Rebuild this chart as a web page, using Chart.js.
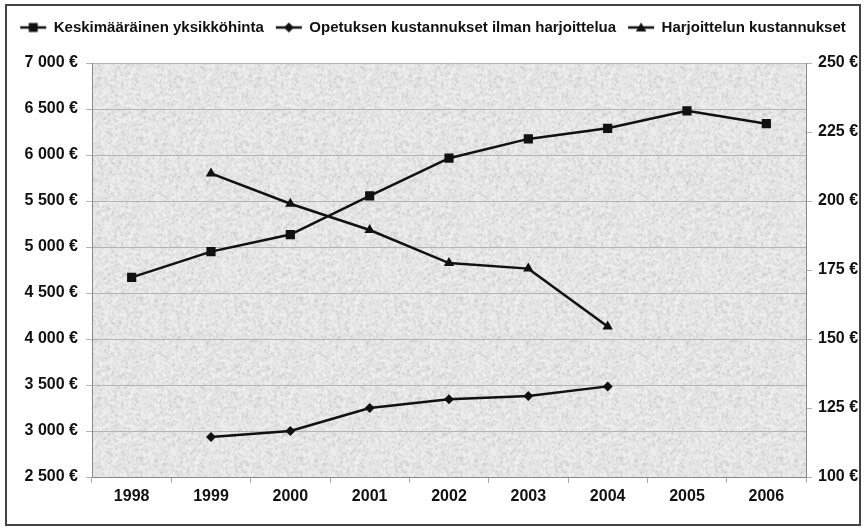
<!DOCTYPE html>
<html>
<head>
<meta charset="utf-8">
<script src="https://cdn.jsdelivr.net/npm/chart.js@4"></script>
<style>
html,body{margin:0;padding:0;background:#fff;}
#wrap{width:866px;height:529px;position:relative;}
</style>
</head>
<body>
<div id="wrap"><canvas id="c" width="866" height="529"></canvas></div>
<script>
// ---- data ----
const years = ['1998','1999','2000','2001','2002','2003','2004','2005','2006'];
const unitPrice = [4670, 4950, 5135, 5555, 5965, 6175, 6290, 6480, 6340];
const teachingCost = [null, 2935, 3000, 3250, 3345, 3380, 3485, null, null];
const trainingCost = [null, 210, 199, 189.5, 177.5, 175.5, 154.5, null, null];
const seriesNames = ['Keskimääräinen yksikköhinta', 'Opetuksen kustannukset ilman harjoittelua', 'Harjoittelun kustannukset'];
const leftTicks = {min: 2500, max: 7000, step: 500};
const rightTicks = {min: 100, max: 250, step: 25};

const FONT = '"Liberation Sans", Arial, sans-serif';
const INK = '#111';
const FS = 16;

function fmtEuro(v){
  return String(v).replace(/\B(?=(\d{3})+(?!\d))/g, ' ') + ' €';
}

// texture for plot background (deterministic noise)
function makeTexture(){
  const s = 160;
  const cv = document.createElement('canvas');
  cv.width = s; cv.height = s;
  const cx = cv.getContext('2d');
  const img = cx.createImageData(s, s);
  let seed = 12345;
  function rnd(){ seed = (seed * 1103515245 + 12345) & 0x7fffffff; return seed / 0x7fffffff; }
  const raw = new Float32Array(s*s);
  for (let i=0;i<s*s;i++){ const r = rnd(); raw[i] = 243 - r*r*r*60; }
  for (let y=0;y<s;y++){
    for (let x=0;x<s;x++){
      let sum=0, n=0;
      for (let dy=-1;dy<=1;dy++) for (let dx=-1;dx<=1;dx++){
        const xx=(x+dx+s)%s, yy=(y+dy+s)%s;
        const w = (dx===0&&dy===0)?4:1;
        sum += raw[yy*s+xx]*w; n+=w;
      }
      const v = Math.round(sum/n);
      const k=(y*s+x)*4;
      img.data[k]=v; img.data[k+1]=v; img.data[k+2]=v; img.data[k+3]=255;
    }
  }
  cx.putImageData(img,0,0);
  return cv;
}

function legendIcon(style){
  const w = 28, h = 14;
  const cv = document.createElement('canvas');
  cv.width = w; cv.height = h;
  const cx = cv.getContext('2d');
  cx.strokeStyle = INK; cx.fillStyle = INK; cx.lineWidth = 2.5;
  cx.beginPath(); cx.moveTo(1, h/2); cx.lineTo(w-1, h/2); cx.stroke();
  const x = w/2, y = h/2;
  cx.beginPath();
  if (style === 'rect'){ cx.rect(x-4.5, y-4.5, 9, 9); }
  else if (style === 'rectRot'){ cx.moveTo(x-5,y); cx.lineTo(x,y-5); cx.lineTo(x+5,y); cx.lineTo(x,y+5); cx.closePath(); }
  else { cx.moveTo(x, y-5); cx.lineTo(x+5.2, y+4); cx.lineTo(x-5.2, y+4); cx.closePath(); }
  cx.fill();
  return cv;
}

const styles = ['rect','rectRot','triangle'];
const radii = [6.5, 5, 6];
const icons = styles.map(legendIcon);

const bgPlugin = {
  id: 'bgTexture',
  beforeDraw(chart){
    const {ctx, chartArea: a} = chart;
    ctx.save();
    ctx.fillStyle = '#fff';
    ctx.fillRect(0,0,chart.width,chart.height);
    const pat = ctx.createPattern(makeTexture(), 'repeat');
    ctx.fillStyle = pat;
    ctx.fillRect(a.left, a.top, a.right-a.left, a.bottom-a.top);
    ctx.restore();
  },
  afterDraw(chart){
    const ctx = chart.ctx;
    ctx.save();
    ctx.strokeStyle = '#444';
    ctx.lineWidth = 2;
    ctx.strokeRect(6, 5, chart.width-12, chart.height-9);
    ctx.restore();
  }
};

const legendFit = {
  id: 'legendFit',
  beforeInit(chart){
    const orig = chart.legend.fit;
    chart.legend.fit = function(){ orig.call(this); this.height = 55; };
  }
};

const mkDs = (i, data, axis) => ({
  label: seriesNames[i],
  data: data,
  yAxisID: axis,
  borderColor: INK,
  backgroundColor: INK,
  borderWidth: 2.5,
  pointStyle: styles[i],
  pointRadius: radii[i],
  pointHoverRadius: radii[i],
  pointBorderWidth: 0,
  pointBackgroundColor: INK,
  tension: 0,
  spanGaps: false
});

new Chart(document.getElementById('c'), {
  type: 'line',
  data: {
    labels: years,
    datasets: [
      mkDs(0, unitPrice, 'y'),
      mkDs(1, teachingCost, 'y'),
      mkDs(2, trainingCost, 'y1')
    ]
  },
  plugins: [bgPlugin, legendFit],
  options: {
    responsive: false,
    animation: false,
    devicePixelRatio: 1,
    layout: {padding: {left: 8, right: 8, top: 8, bottom: 6}},
    plugins: {
      tooltip: {enabled: false},
      legend: {
        position: 'top',
        labels: {
          usePointStyle: true,
          pointStyleWidth: 26,
          padding: 12,
          color: INK,
          font: {family: FONT, size: 15, weight: 'bold'},
          generateLabels(chart){
            return chart.data.datasets.map((d, i) => ({
              text: d.label, pointStyle: icons[i], fillStyle: INK, strokeStyle: INK,
              lineWidth: 0, hidden: false, datasetIndex: i, fontColor: INK
            }));
          }
        }
      }
    },
    scales: {
      x: {
        offset: true,
        grid: {offset: true, drawOnChartArea: false, drawTicks: true, tickLength: 6, color: '#aaa'},
        border: {display: true, color: '#888', width: 1},
        ticks: {color: INK, padding: 4, font: {family: FONT, size: FS, weight: 'bold'}, maxRotation: 0},
        afterFit(s){ s.height = 46; }
      },
      y: {
        position: 'left',
        min: leftTicks.min, max: leftTicks.max,
        grid: {color: '#b4b4b4', tickLength: 6, lineWidth: 1},
        border: {display: true, color: '#888'},
        ticks: {stepSize: leftTicks.step, color: INK, padding: 8, font: {family: FONT, size: FS, weight: 'bold'}, callback: v => fmtEuro(v)},
        afterFit(s){ s.width = 84; }
      },
      y1: {
        position: 'right',
        min: rightTicks.min, max: rightTicks.max,
        grid: {drawOnChartArea: false, color: '#b4b4b4', tickLength: 6},
        border: {display: true, color: '#888'},
        ticks: {stepSize: rightTicks.step, color: INK, padding: 6, font: {family: FONT, size: FS, weight: 'bold'}, callback: v => fmtEuro(v)},
        afterFit(s){ s.width = 52; }
      }
    }
  }
});
</script>
</body>
</html>
